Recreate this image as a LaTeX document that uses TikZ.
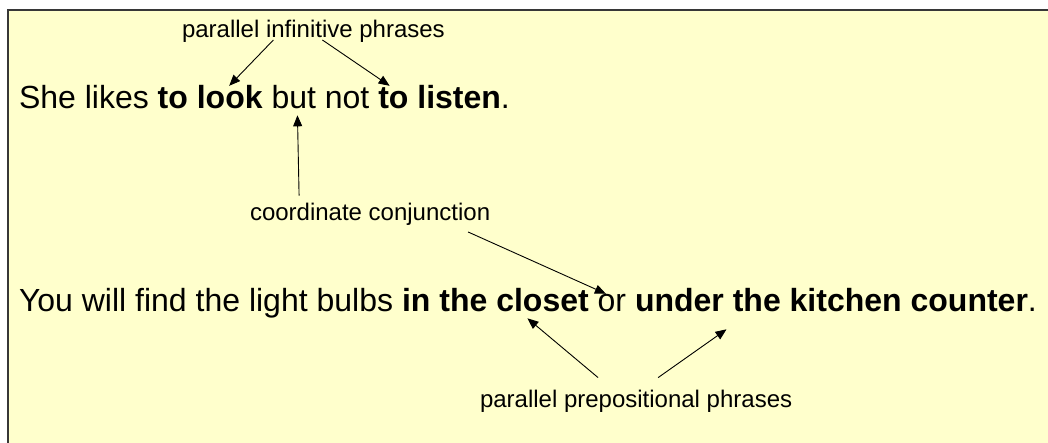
\documentclass[tikz,border=0pt]{standalone}
\usepackage{fontspec}
\setmainfont{Liberation Sans}
\usetikzlibrary{arrows.meta,positioning}
\definecolor{paper}{RGB}{255,255,204}
\definecolor{frame}{RGB}{55,55,55}

\begin{document}
\begin{tikzpicture}[
    x=1pt, y=-1pt,
    sent/.style={
        inner sep=0pt,
        outer sep=0pt,
        font=\fontsize{32}{38}\selectfont
    },
    bsent/.style={
        sent,
        font=\fontsize{32}{38}\selectfont\bfseries
    },
    nxt/.style={anchor=base west, xshift=8.9pt},
    lbl/.style={
        inner sep=0pt,
        outer sep=0pt,
        anchor=base west,
        font=\fontsize{24}{28}\selectfont
    },
    arr/.style={-{Triangle[length=11pt,width=9pt]}, line width=0.9pt}
]
\useasboundingbox (0,0) rectangle (1048,443);
\fill[white] (0,0) rectangle (1048,443);
\draw[frame, line width=1.6pt, fill=paper] (8,10) rectangle (1070,470);

% first sentence
\node[sent, anchor=base west] (she) at (19,109) {She likes};
\node[bsent, nxt] (look) at (she.base east) {to look};
\node[sent, nxt] (butnot) at (look.base east) {but not};
\node[bsent, nxt] (listen) at (butnot.base east) {to listen};
\node[sent, anchor=base west] (dot1) at (listen.base east) {.};

% second sentence
\node[sent, anchor=base west] (you) at (19,311) {You will find the light bulbs};
\node[bsent, nxt] (closet) at (you.base east) {in the closet};
\node[sent, nxt] (or) at (closet.base east) {or};
\node[bsent, nxt] (counter) at (or.base east) {under the kitchen counter};
\node[sent, anchor=base west] (dot2) at (counter.base east) {.};

% labels
\node[lbl] (infl) at (182,38) {parallel infinitive phrases};
\node[lbl] (conj) at (250,221) {coordinate conjunction};
\node[lbl] (prep) at (480,407) {parallel prepositional phrases};

\draw[arr] ([xshift=-40pt,yshift=3pt]infl.south) -- ([xshift=19pt]look.north);
\draw[arr] ([xshift=9pt,yshift=3pt]infl.south) -- ([xshift=-50pt]listen.north);
\draw[arr] ([xshift=-71pt,yshift=8pt]conj.north) -- ([xshift=-23pt,yshift=-6pt]butnot.south);
\draw[arr] ([xshift=98pt,yshift=-6pt]conj.south) -- ([xshift=-6pt]or.north);
\draw[arr] ([xshift=-38pt,yshift=12pt]prep.north) -- ([xshift=32pt,yshift=-7pt]closet.south);
\draw[arr] ([xshift=22pt,yshift=12pt]prep.north) -- ([xshift=-105pt,yshift=-18pt]counter.south);

\end{tikzpicture}
\end{document}
